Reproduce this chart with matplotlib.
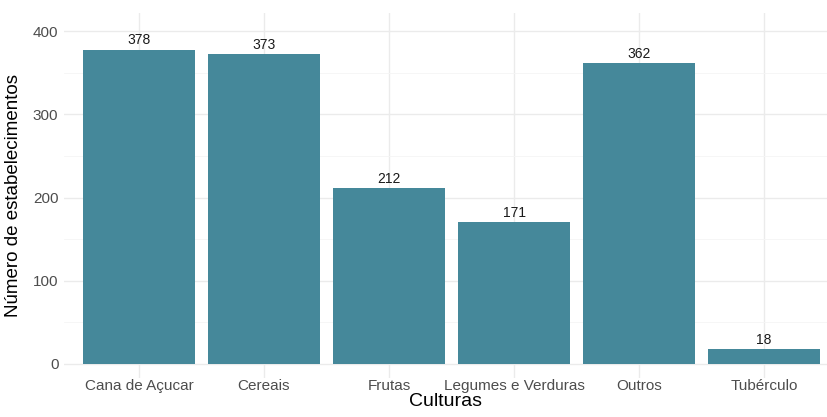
import matplotlib.pyplot as plt
from matplotlib.ticker import MultipleLocator

plt.rcParams['font.family'] = ['Liberation Sans', 'DejaVu Sans']

culturas = ["Cana de Açucar", "Cereais", "Frutas", "Legumes e Verduras", "Outros", "Tubérculo"]
estabelecimentos = [378, 373, 212, 171, 362, 18]

bar_color = "#45889A"

fig = plt.figure(figsize=(8.27, 4.17), dpi=100)
ax = fig.add_axes([64 / 827, 1 - 378 / 417, 1 - 64 / 827, (378 - 13) / 417])

x = range(len(culturas))
ax.bar(x, estabelecimentos, width=0.9, color=bar_color, zorder=2)
for xi, v in zip(x, estabelecimentos):
    ax.annotate(str(v), (xi, v), xytext=(0, 1.5), textcoords="offset points",
                ha="center", va="bottom", fontsize=10, color="#1a1a1a")

ax.set_xlim(-0.6, 5.504)
ax.set_ylim(-17, 422)
ax.set_xticks(list(x))
ax.set_xticklabels(culturas)
ax.yaxis.set_major_locator(MultipleLocator(100))
ax.yaxis.set_minor_locator(MultipleLocator(50))

ax.grid(which="major", color="#EBEBEB", linewidth=1.0, zorder=0)
ax.grid(which="minor", axis="y", color="#F5F5F5", linewidth=0.6, zorder=0)
for s in ax.spines.values():
    s.set_visible(False)
ax.tick_params(which="both", length=0, labelsize=11, colors="#4D4D4D", pad=4)
ax.tick_params(axis="x", pad=1)

ax.set_xlabel("Culturas", fontsize=14, labelpad=0)
ax.set_ylabel("Número de estabelecimentos", fontsize=13.5, labelpad=8)

fig.savefig("out.png", dpi=100)
